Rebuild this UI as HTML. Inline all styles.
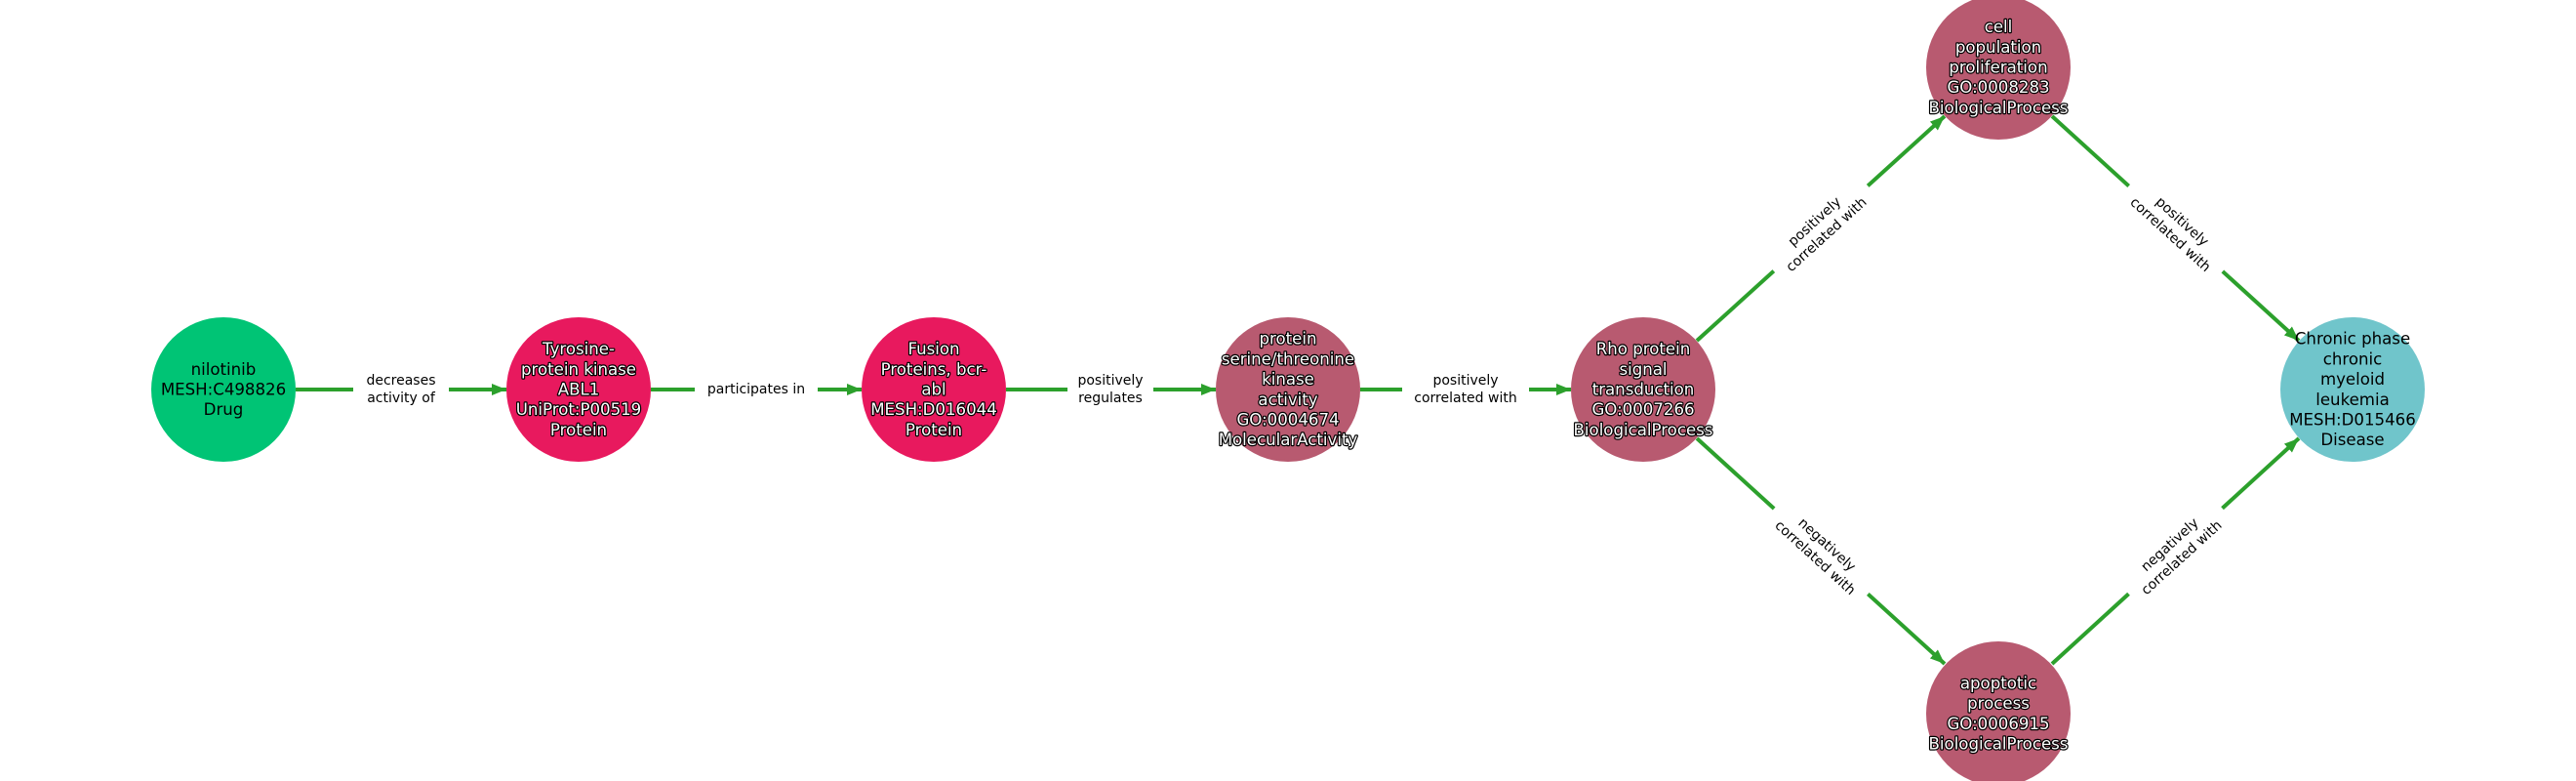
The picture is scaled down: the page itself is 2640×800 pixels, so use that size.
<!DOCTYPE html>
<html><head><meta charset="utf-8"><style>
html,body{margin:0;padding:0;background:#fff;}
svg{display:block;}
.n{font-family:"DejaVu Sans","Liberation Sans",sans-serif;font-size:16.6px;text-anchor:middle;dominant-baseline:central;}
.w{fill:#fff;stroke:#000;stroke-width:2.4px;paint-order:stroke;stroke-linejoin:round;}
.b{fill:#000;}
.e{font-family:"DejaVu Sans","Liberation Sans",sans-serif;font-size:14px;text-anchor:middle;dominant-baseline:central;fill:#000;}
line{stroke:#2ca02c;stroke-width:4;}
</style></head><body>
<svg width="2640" height="800" viewBox="0 0 2640 800" xmlns="http://www.w3.org/2000/svg">
<defs>
<marker id="a" markerUnits="userSpaceOnUse" markerWidth="16" markerHeight="14" refX="15" refY="7" orient="auto">
<path d="M0,1 L15,7 L0,13 Z" fill="#2ca02c"/>
</marker>
</defs>
<line x1="303" y1="399" x2="519" y2="399" marker-end="url(#a)"/>
<line x1="667" y1="399" x2="883" y2="399" marker-end="url(#a)"/>
<line x1="1031" y1="399" x2="1246" y2="399" marker-end="url(#a)"/>
<line x1="1394" y1="399" x2="1610" y2="399" marker-end="url(#a)"/>
<line x1="1739" y1="349" x2="1993" y2="119" marker-end="url(#a)"/>
<line x1="2103" y1="119" x2="2356" y2="349" marker-end="url(#a)"/>
<line x1="1739" y1="449" x2="1993" y2="680" marker-end="url(#a)"/>
<line x1="2103" y1="680" x2="2356" y2="449" marker-end="url(#a)"/>
<rect x="362" y="381" width="98" height="36" fill="#fff"/>
<text class="e" x="411" y="390">decreases</text><text class="e" x="411" y="408">activity of</text>
<rect x="712" y="389" width="126" height="20" fill="#fff"/>
<text class="e" x="775" y="399">participates in</text>
<rect x="1094" y="381" width="88" height="36" fill="#fff"/>
<text class="e" x="1138" y="390">positively</text><text class="e" x="1138" y="408">regulates</text>
<rect x="1437" y="381" width="130" height="36" fill="#fff"/>
<text class="e" x="1502" y="390">positively</text><text class="e" x="1502" y="408">correlated with</text>
<g transform="translate(1866,234) rotate(-42.2)"><rect x="-65" y="-18" width="130" height="36" fill="#fff"/><text class="e" x="0" y="-9">positively</text><text class="e" x="0" y="9">correlated with</text></g>
<g transform="translate(2230,234) rotate(42.2)"><rect x="-65" y="-18" width="130" height="36" fill="#fff"/><text class="e" x="0" y="-9">positively</text><text class="e" x="0" y="9">correlated with</text></g>
<g transform="translate(1866,565) rotate(42.2)"><rect x="-65" y="-18" width="130" height="36" fill="#fff"/><text class="e" x="0" y="-9">negatively</text><text class="e" x="0" y="9">correlated with</text></g>
<g transform="translate(2230,565) rotate(-42.2)"><rect x="-65" y="-18" width="130" height="36" fill="#fff"/><text class="e" x="0" y="-9">negatively</text><text class="e" x="0" y="9">correlated with</text></g>
<circle cx="229" cy="399" r="74" fill="#00c475"/>
<text class="n b" x="229" y="378.3">nilotinib</text><text class="n b" x="229" y="399">MESH:C498826</text><text class="n b" x="229" y="419.7">Drug</text>
<circle cx="593" cy="399" r="74" fill="#e8195e"/>
<text class="n w" x="593" y="357.6">Tyrosine-</text><text class="n w" x="593" y="378.3">protein kinase</text><text class="n w" x="593" y="399">ABL1</text><text class="n w" x="593" y="419.7">UniProt:P00519</text><text class="n w" x="593" y="440.4">Protein</text>
<circle cx="957" cy="399" r="74" fill="#e8195e"/>
<text class="n w" x="957" y="357.6">Fusion</text><text class="n w" x="957" y="378.3">Proteins, bcr-</text><text class="n w" x="957" y="399">abl</text><text class="n w" x="957" y="419.7">MESH:D016044</text><text class="n w" x="957" y="440.4">Protein</text>
<circle cx="1320" cy="399" r="74" fill="#b85a70"/>
<text class="n w" x="1320" y="347.2">protein</text><text class="n w" x="1320" y="367.9">serine/threonine</text><text class="n w" x="1320" y="388.6">kinase</text><text class="n w" x="1320" y="409.3">activity</text><text class="n w" x="1320" y="430">GO:0004674</text><text class="n w" x="1320" y="450.7">MolecularActivity</text>
<circle cx="1684" cy="399" r="74" fill="#b85a70"/>
<text class="n w" x="1684" y="357.6">Rho protein</text><text class="n w" x="1684" y="378.3">signal</text><text class="n w" x="1684" y="399">transduction</text><text class="n w" x="1684" y="419.7">GO:0007266</text><text class="n w" x="1684" y="440.4">BiologicalProcess</text>
<circle cx="2048" cy="69" r="74" fill="#b85a70"/>
<text class="n w" x="2048" y="27.6">cell</text><text class="n w" x="2048" y="48.3">population</text><text class="n w" x="2048" y="69">proliferation</text><text class="n w" x="2048" y="89.7">GO:0008283</text><text class="n w" x="2048" y="110.4">BiologicalProcess</text>
<circle cx="2048" cy="731" r="74" fill="#b85a70"/>
<text class="n w" x="2048" y="700">apoptotic</text><text class="n w" x="2048" y="720.7">process</text><text class="n w" x="2048" y="741.4">GO:0006915</text><text class="n w" x="2048" y="762.1">BiologicalProcess</text>
<circle cx="2411" cy="399" r="74" fill="#70c5cb"/>
<text class="n b" x="2411" y="347.2">Chronic phase</text><text class="n b" x="2411" y="367.9">chronic</text><text class="n b" x="2411" y="388.6">myeloid</text><text class="n b" x="2411" y="409.3">leukemia</text><text class="n b" x="2411" y="430">MESH:D015466</text><text class="n b" x="2411" y="450.7">Disease</text>
</svg>
</body></html>
